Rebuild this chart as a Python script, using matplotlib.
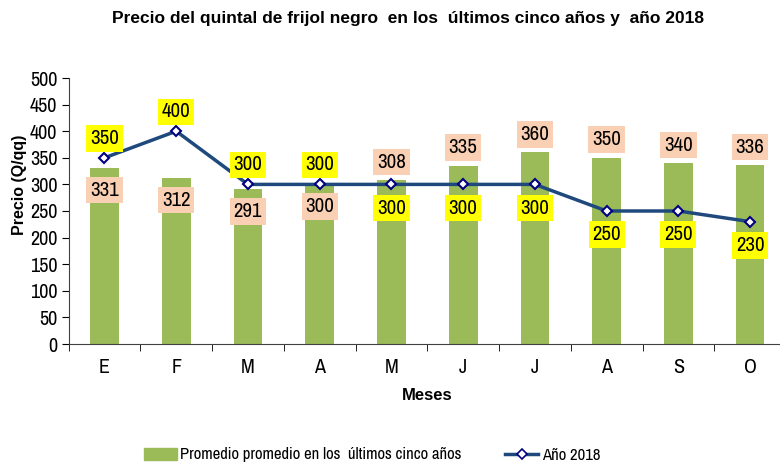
import numpy as np
import matplotlib.pyplot as plt
from matplotlib.lines import Line2D
from matplotlib.patches import Patch

meses = ['E', 'F', 'M', 'A', 'M', 'J', 'J', 'A', 'S', 'O']
promedio = [331, 312, 291, 300, 308, 335, 360, 350, 340, 336]
anio_2018 = [350, 400, 300, 300, 300, 300, 300, 250, 250, 230]

titulo = 'Precio del quintal de frijol negro  en los  últimos cinco años y  año 2018'
nombre_barras = 'Promedio promedio en los  últimos cinco años'
nombre_linea = 'Año 2018'

verde = '#9BBB59'
azul = '#1F497D'
narrow = ['Archivo Narrow', 'Liberation Sans', 'DejaVu Sans']
plt.rcParams['font.family'] = ['Liberation Sans', 'DejaVu Sans']

fig = plt.figure(figsize=(7.8, 4.66), dpi=100)
ax = fig.add_axes([68.6 / 780, 122 / 466, 717.4 / 780, 266 / 466])

x = np.arange(len(meses))
ax.bar(x, promedio, width=0.4, color=verde, zorder=2)
ax.plot(x, anio_2018, color=azul, linewidth=2.5, marker='D', markersize=5.5,
        markerfacecolor='white', markeredgecolor='#000080', markeredgewidth=1.5, zorder=3)

for i in range(len(meses)):
    linea_arriba = anio_2018[i] >= promedio[i]
    ax.annotate(str(anio_2018[i]), (x[i], anio_2018[i]),
                xytext=(0, 14 if linea_arriba else -17), textcoords='offset points',
                ha='center', va='center', fontsize=15, family=narrow, zorder=5,
                bbox=dict(boxstyle='square,pad=0.18', fc='#FFFF00', ec='none'))
    ax.annotate(str(promedio[i]), (x[i], promedio[i]),
                xytext=(0, -16 if linea_arriba else 13), textcoords='offset points',
                ha='center', va='center', fontsize=15, family=narrow, zorder=5,
                bbox=dict(boxstyle='square,pad=0.18', fc='#FAD0B4', ec='none'))

ax.set_xlim(-0.5, len(meses) - 0.5)
ax.set_ylim(0, 500)
ax.set_yticks(np.arange(0, 501, 50))
ax.set_xticks(x)
ax.set_xticklabels(meses, fontsize=14.5, family=narrow)
ax.set_xticks(np.arange(-0.5, len(meses), 1), minor=True)
ax.tick_params(axis='x', which='major', length=0, pad=10)
ax.tick_params(axis='x', which='minor', length=5, direction='out')
ax.tick_params(axis='y', length=5, direction='out', pad=3)
for lbl in ax.get_yticklabels():
    lbl.set_fontfamily(narrow)
    lbl.set_fontsize(14.5)

for s in ['top', 'right']:
    ax.spines[s].set_visible(False)
for s in ['left', 'bottom']:
    ax.spines[s].set_color('#404040')

ax.set_xlabel('Meses', fontsize=12, fontweight='bold', labelpad=8)
ax.set_ylabel('Precio (Q/qq)', fontsize=11.5, fontweight='bold')
ax.yaxis.set_label_coords(-0.058, 0.6)

fig.text(408 / 780, 1 - 18 / 466, titulo, ha='center', va='center',
         fontsize=12.5, fontweight='bold')

handles = [Patch(color=verde),
           Line2D([], [], color=azul, linewidth=2.5, marker='D', markersize=5.5,
                  markerfacecolor='white', markeredgecolor='#000080', markeredgewidth=1.2)]
fig.legend(handles, [nombre_barras, nombre_linea], loc='center',
           bbox_to_anchor=(372 / 780, 1 - 455 / 466), ncol=2, frameon=False,
           prop={'family': narrow, 'size': 12}, columnspacing=2.6, handlelength=2.0,
           handletextpad=0.2)

fig.savefig('out.png', dpi=100)
